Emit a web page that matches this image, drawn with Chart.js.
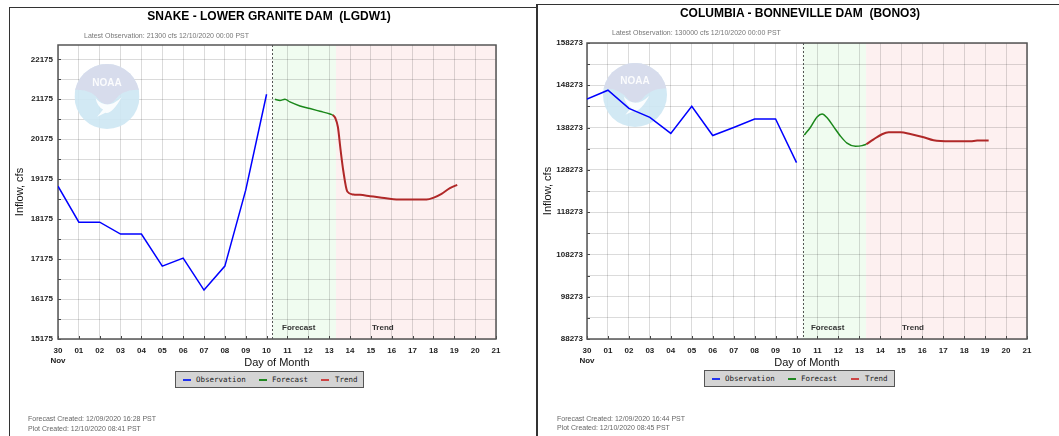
<!DOCTYPE html>
<html><head><meta charset="utf-8">
<script src="https://cdn.jsdelivr.net/npm/chart.js@4.4.1/dist/chart.umd.min.js"></script>
<style>
body{margin:0;width:1059px;height:436px;overflow:hidden;background:#fff;position:relative;font-family:"Liberation Sans",Arial,sans-serif}
.abs{position:absolute;white-space:pre}
.title{font-weight:bold;font-size:12px;line-height:14px;color:#000;transform:translateX(-50%)}
.sub{font-size:7px;line-height:8px;color:#777}
.foot{font-size:7px;line-height:8px;color:#666}
.legend{position:absolute;background:#d4d4d4;border:1px solid #555;box-sizing:border-box;font-family:"DejaVu Sans Mono",monospace;font-size:7.5px;color:#222}
.legend span{position:absolute;top:3px;line-height:9px}
.legend i{position:absolute;top:7px;width:8px;height:2px}
.bd{position:absolute;background:#333}
canvas{position:absolute;top:0}
</style></head><body>
<canvas id="c1" width="536" height="436" style="left:0"></canvas>
<canvas id="c2" width="523" height="436" style="left:536px"></canvas>

<div class="bd" style="left:9px;top:7px;width:528px;height:1px"></div>
<div class="bd" style="left:9px;top:7px;width:1px;height:429px"></div>
<div class="bd" style="left:536px;top:4px;width:523px;height:1px"></div>
<div class="bd" style="left:536px;top:4px;width:2px;height:432px"></div>

<div class="abs title" style="left:269px;top:9px">SNAKE - LOWER GRANITE DAM  (LGDW1)</div>
<div class="abs sub" style="left:84px;top:32px">Latest Observation: 21300 cfs 12/10/2020 00:00 PST</div>
<div class="abs foot" style="left:28px;top:415px">Forecast Created: 12/09/2020 16:28 PST</div>
<div class="abs foot" style="left:28px;top:425px">Plot Created: 12/10/2020 08:41 PST</div>
<div class="legend" style="left:175px;top:371px;width:189px;height:17px">
  <i style="left:7px;background:#2233ee"></i><span style="left:20px">Observation</span>
  <i style="left:83px;background:#228822"></i><span style="left:96px">Forecast</span>
  <i style="left:145px;background:#cc4444"></i><span style="left:159px">Trend</span>
</div>

<div class="abs title" style="left:800px;top:6px">COLUMBIA - BONNEVILLE DAM  (BONO3)</div>
<div class="abs sub" style="left:612px;top:29px">Latest Observation: 130000 cfs 12/10/2020 00:00 PST</div>
<div class="abs foot" style="left:557px;top:415px">Forecast Created: 12/09/2020 16:44 PST</div>
<div class="abs foot" style="left:557px;top:424px">Plot Created: 12/10/2020 08:45 PST</div>
<div class="legend" style="left:704px;top:370px;width:191px;height:17px">
  <i style="left:7px;background:#2233ee"></i><span style="left:20px">Observation</span>
  <i style="left:83px;background:#228822"></i><span style="left:96px">Forecast</span>
  <i style="left:146px;background:#cc4444"></i><span style="left:160px">Trend</span>
</div>

<script>
// ---------- shared axis data ----------
const dayTicks  = [0,1,2,3,4,5,6,7,8,9,10,11,12,13,14,15,16,17,18,19,20,21];
const dayLabels = ['30','01','02','03','04','05','06','07','08','09','10','11','12','13','14','15','16','17','18','19','20','21'];
const monthLabel = 'Nov';
const regionLabels = ['Forecast', 'Trend'];

// ---------- SNAKE - LOWER GRANITE DAM ----------
const snakeMajorTicks = [15175,16175,17175,18175,19175,20175,21175,22175];
const snakeMinorTicks = [15675,16675,17675,18675,19675,20675,21675];
const snakeObsDay  = [0,1,2,3,4,5,6,7,8,9,10];
const snakeObsFlow = [19000,18100,18100,17800,17800,17000,17200,16400,17000,18900,21300];
const snakeFcstDay  = [10.40,10.64,10.88,11.12,11.60,12.08,12.56,13.04,13.17];
const snakeFcstFlow = [21175,21142,21175,21108,21008,20942,20875,20808,20783];
const snakeTrendDay  = [13.17,13.30,13.42,13.55,13.68,13.87,14.16,14.48,14.96,15.44,16.08,16.87,17.67,17.99,18.39,18.79,19.14];
const snakeTrendFlow = [20783,20700,20480,19900,19380,18867,18792,18783,18750,18717,18675,18667,18667,18708,18808,18950,19033];

// ---------- COLUMBIA - BONNEVILLE DAM ----------
const bonnMajorTicks = [88273,98273,108273,118273,128273,138273,148273,158273];
const bonnMinorTicks = [93273,103273,113273,123273,133273,143273,153273];
const bonnObsDay  = [0,1,2,3,4,5,6,7,8,9,10];
const bonnObsFlow = [145000,147100,142800,140700,136900,143300,136400,138300,140300,140300,130000];
const bonnFcstDay  = [10.37,10.66,10.98,11.22,11.46,11.77,12.09,12.41,12.81,13.13,13.33];
const bonnFcstFlow = [136500,138300,140800,141500,140600,138500,136300,134600,133850,134000,134330];
const bonnTrendDay  = [13.33,13.68,14.08,14.40,14.96,15.43,16.07,16.54,17.34,18.30,18.62,19.17];
const bonnTrendFlow = [134330,135500,136700,137170,137170,136770,135980,135270,135030,135030,135190,135190];

const FONT = '"Liberation Sans", Arial, sans-serif';
const pts = (xs, ys) => xs.map((x, i) => ({x: x, y: ys[i]}));

function drawLogo(ctx, cx, cy, r) {
  ctx.save();
  ctx.globalAlpha = 0.9;
  ctx.beginPath(); ctx.arc(cx, cy, r, 0, Math.PI * 2); ctx.clip();
  ctx.fillStyle = '#cde7f3'; ctx.fillRect(cx - r, cy - r, 2 * r, 2 * r);
  ctx.fillStyle = '#d8daeb';
  ctx.beginPath();
  ctx.moveTo(cx - r, cy - r); ctx.lineTo(cx + r, cy - r); ctx.lineTo(cx + r, cy - 0.2 * r);
  ctx.quadraticCurveTo(cx + 0.5 * r, cy - 0.25 * r, cx + 0.2 * r, cy + 0.15 * r);
  ctx.quadraticCurveTo(cx, cy + 0.32 * r, cx - 0.2 * r, cy + 0.15 * r);
  ctx.quadraticCurveTo(cx - 0.5 * r, cy - 0.25 * r, cx - r, cy - 0.2 * r);
  ctx.closePath(); ctx.fill();
  ctx.fillStyle = '#ffffff';
  ctx.beginPath();
  ctx.moveTo(cx - 0.35 * r, cy + 0.05 * r);
  ctx.quadraticCurveTo(cx, cy + 0.45 * r, cx + 0.45 * r, cy + 0.02 * r);
  ctx.quadraticCurveTo(cx + 0.15 * r, cy + 0.55 * r, cx - 0.05 * r, cy + 0.5 * r);
  ctx.lineTo(cx - 0.3 * r, cy + 0.62 * r);
  ctx.lineTo(cx - 0.12 * r, cy + 0.4 * r);
  ctx.quadraticCurveTo(cx - 0.3 * r, cy + 0.3 * r, cx - 0.35 * r, cy + 0.05 * r);
  ctx.closePath(); ctx.fill();
  ctx.font = 'bold ' + Math.round(r * 0.32) + 'px ' + FONT;
  ctx.textAlign = 'center'; ctx.textBaseline = 'middle';
  ctx.fillText('NOAA', cx, cy - 0.42 * r);
  ctx.restore();
}

const nwrfcPlugin = {
  id: 'nwrfc',
  beforeDraw(chart, args, o) {
    const {ctx, chartArea: a, scales: {x}} = chart;
    const xn = x.getPixelForValue(o.nowDay), xf = x.getPixelForValue(o.fcstEnd);
    ctx.save();
    ctx.fillStyle = '#f0fcf0'; ctx.fillRect(xn, a.top, xf - xn, a.bottom - a.top);
    ctx.fillStyle = '#fdf0f0'; ctx.fillRect(xf, a.top, a.right - xf, a.bottom - a.top);
    ctx.restore();
  },
  beforeDatasetsDraw(chart, args, o) {
    const {ctx, chartArea: a, scales: {x, y}} = chart;
    drawLogo(ctx, o.logo[0], o.logo[1], o.logo[2]);
    ctx.save();
    const xn = Math.round(x.getPixelForValue(o.nowDay)) + 0.5;
    ctx.strokeStyle = '#555'; ctx.lineWidth = 1; ctx.setLineDash([2, 2]);
    ctx.beginPath(); ctx.moveTo(xn, a.top); ctx.lineTo(xn, a.bottom); ctx.stroke();
    ctx.setLineDash([]);
    ctx.fillStyle = '#333'; ctx.font = 'bold 8px ' + FONT;
    ctx.textAlign = 'left'; ctx.textBaseline = 'middle';
    ctx.fillText(regionLabels[0], x.getPixelForValue(o.fcstLabelDay), a.bottom - 11.5);
    ctx.fillText(regionLabels[1], x.getPixelForValue(o.trendLabelDay), a.bottom - 11.5);
    ctx.strokeStyle = '#444'; ctx.lineWidth = 1;
    ctx.beginPath();
    x.ticks.forEach(t => { const px = Math.round(x.getPixelForValue(t.value)) + 0.5; ctx.moveTo(px, a.bottom); ctx.lineTo(px, a.bottom - 3); });
    y.ticks.forEach(t => { const py = Math.round(y.getPixelForValue(t.value)) + 0.5; ctx.moveTo(a.left, py); ctx.lineTo(a.left + 3, py); });
    ctx.stroke();
    ctx.strokeStyle = '#555'; ctx.lineWidth = 1.5;
    ctx.strokeRect(a.left, a.top, a.right - a.left, a.bottom - a.top);
    ctx.restore();
  }
};

function makeChart(id, cfg) {
  const majors = cfg.majors;
  const allTicks = majors.concat(cfg.minors).sort((p, q) => p - q);
  return new Chart(document.getElementById(id), {
    type: 'line',
    data: {
      datasets: [
        {label: 'Observation', data: pts(cfg.obs[0], cfg.obs[1]), borderColor: '#0000ff', borderWidth: 1.5, pointRadius: 0, tension: 0},
        {label: 'Forecast', data: pts(cfg.fc[0], cfg.fc[1]), borderColor: '#1a871a', borderWidth: 1.5, pointRadius: 0, cubicInterpolationMode: 'monotone'},
        {label: 'Trend', data: pts(cfg.tr[0], cfg.tr[1]), borderColor: '#b02828', borderWidth: 2, pointRadius: 0, cubicInterpolationMode: 'monotone'}
      ]
    },
    options: {
      responsive: false, animation: false, devicePixelRatio: 1,
      layout: {padding: cfg.padding},
      plugins: {legend: {display: false}, tooltip: {enabled: false}, nwrfc: cfg.plug},
      scales: {
        x: {
          type: 'linear', min: 0, max: 21,
          afterBuildTicks: s => { s.ticks = dayTicks.map(v => ({value: v})); },
          afterFit: s => { s.height = 34; },
          grid: {color: 'rgba(0,0,0,0.14)', drawTicks: false},
          border: {display: false},
          ticks: {autoSkip: false, maxRotation: 0, padding: 6, color: '#222',
                  font: {family: FONT, size: 8, weight: 'bold', lineHeight: 1.35},
                  callback: (v) => v === 0 ? [dayLabels[0], monthLabel] : dayLabels[v]},
          title: {display: true, text: 'Day of Month', color: '#111', font: {family: FONT, size: 11}, padding: {top: 0, bottom: 3}}
        },
        y: {
          min: majors[0], max: cfg.ymax,
          afterBuildTicks: s => { s.ticks = allTicks.map(v => ({value: v})); },
          afterFit: s => { s.width = cfg.yWidth; },
          grid: {color: 'rgba(0,0,0,0.14)', drawTicks: false},
          border: {display: false},
          ticks: {autoSkip: false, padding: cfg.tickPad, color: '#222',
                  font: {family: FONT, size: 8, weight: 'bold'},
                  callback: (v) => majors.includes(v) ? String(v) : ''},
          title: {display: true, text: 'Inflow, cfs', color: '#111', font: {family: FONT, size: 11}, padding: {top: cfg.titlePad, bottom: 0}}
        }
      }
    },
    plugins: [nwrfcPlugin]
  });
}

makeChart('c1', {
  majors: snakeMajorTicks, minors: snakeMinorTicks, ymax: 22533,
  obs: [snakeObsDay, snakeObsFlow], fc: [snakeFcstDay, snakeFcstFlow], tr: [snakeTrendDay, snakeTrendFlow],
  padding: {left: 0, right: 40, top: 45, bottom: 63}, yWidth: 58, tickPad: 5, titlePad: 13,
  plug: {nowDay: 10.27, fcstEnd: 13.33, fcstLabelDay: 10.74, trendLabelDay: 15.05, logo: [107, 96.5, 32.5]}
});

makeChart('c2', {
  majors: bonnMajorTicks, minors: bonnMinorTicks, ymax: 158273,
  obs: [bonnObsDay, bonnObsFlow], fc: [bonnFcstDay, bonnFcstFlow], tr: [bonnTrendDay, bonnTrendFlow],
  padding: {left: 0, right: 32, top: 43, bottom: 63}, yWidth: 51, tickPad: 4, titlePad: 5,
  plug: {nowDay: 10.29, fcstEnd: 13.32, fcstLabelDay: 10.69, trendLabelDay: 15.04, logo: [99, 95, 32]}
});
</script>
</body></html>
